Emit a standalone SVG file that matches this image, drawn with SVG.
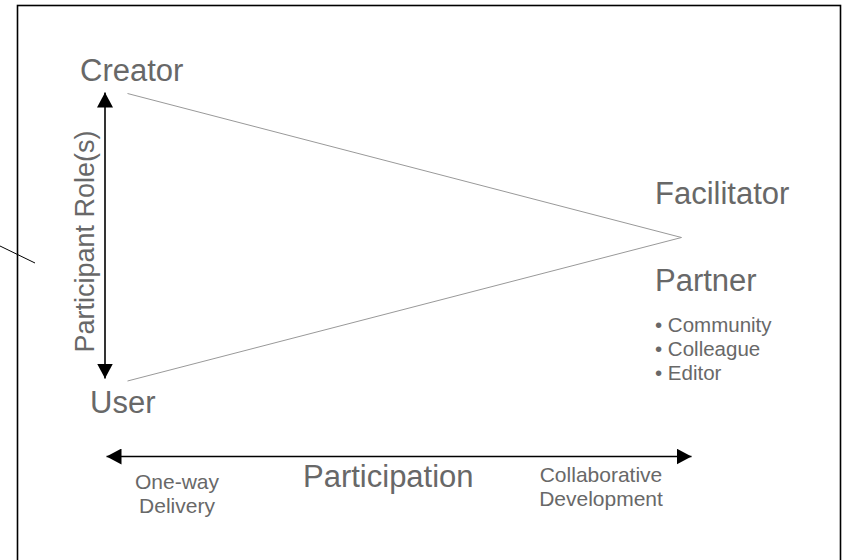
<svg xmlns="http://www.w3.org/2000/svg" width="846" height="560" viewBox="0 0 846 560">
  <defs>
    <style>
      .label { font-family: "Liberation Sans", Arial, sans-serif; fill: #686868; }
      .big { font-size: 31px; }
      .small { font-size: 20.5px; }
      .note { font-size: 21px; text-anchor: middle; }
      .edge { stroke: #999999; stroke-width: 1; fill: none; }
      .axis { stroke: #000000; stroke-width: 1.6; fill: none; marker-start: url(#head); marker-end: url(#head); }
    </style>
    <marker id="head" markerUnits="userSpaceOnUse" markerWidth="15" markerHeight="16" refX="15" refY="8" orient="auto-start-reverse" viewBox="0 0 15 16">
      <path d="M0,0 L15,8 L0,16 Z" fill="#000000"/>
    </marker>
  </defs>

  <rect x="0" y="0" width="846" height="560" fill="#ffffff"/>
  <!-- frame (bottom edge runs past the canvas) -->
  <rect x="17.5" y="5.5" width="823" height="580" fill="none" stroke="#000000" stroke-width="1.6"/>
  <line x1="0" y1="246" x2="35" y2="263" stroke="#000000" stroke-width="1"/>

  <g id="connectors">
    <line class="edge" x1="127.5" y1="93.5" x2="681.5" y2="237.5"/>
    <line class="edge" x1="127.5" y1="381" x2="681.5" y2="237.5"/>
    <line id="role-axis" class="axis" x1="105" y1="92.5" x2="105" y2="378.5"/>
    <line id="participation-axis" class="axis" x1="106.5" y1="456.5" x2="691.5" y2="456.5"/>
  </g>

  <g id="creator">
    <text class="label big" x="80" y="81">Creator</text>
  </g>
  <g id="user">
    <text class="label big" x="90" y="413">User</text>
  </g>
  <g id="facilitator">
    <text class="label big" x="655" y="204">Facilitator</text>
  </g>
  <g id="partner">
    <text class="label big" x="655" y="291">Partner</text>
    <text class="label small" x="655" y="332">• Community</text>
    <text class="label small" x="655" y="356">• Colleague</text>
    <text class="label small" x="655" y="380">• Editor</text>
  </g>
  <g id="role-label">
    <text class="label" font-size="27" text-anchor="middle" transform="translate(93.5,241.5) rotate(-90)">Participant Role(s)</text>
  </g>
  <g id="participation-label">
    <text class="label" font-size="31" x="303" y="487">Participation</text>
  </g>
  <g id="one-way">
    <text class="label note" x="177" y="489">One-way</text>
    <text class="label note" x="177" y="513">Delivery</text>
  </g>
  <g id="collaborative">
    <text class="label note" x="601" y="482">Collaborative</text>
    <text class="label note" x="601" y="506">Development</text>
  </g>
</svg>
